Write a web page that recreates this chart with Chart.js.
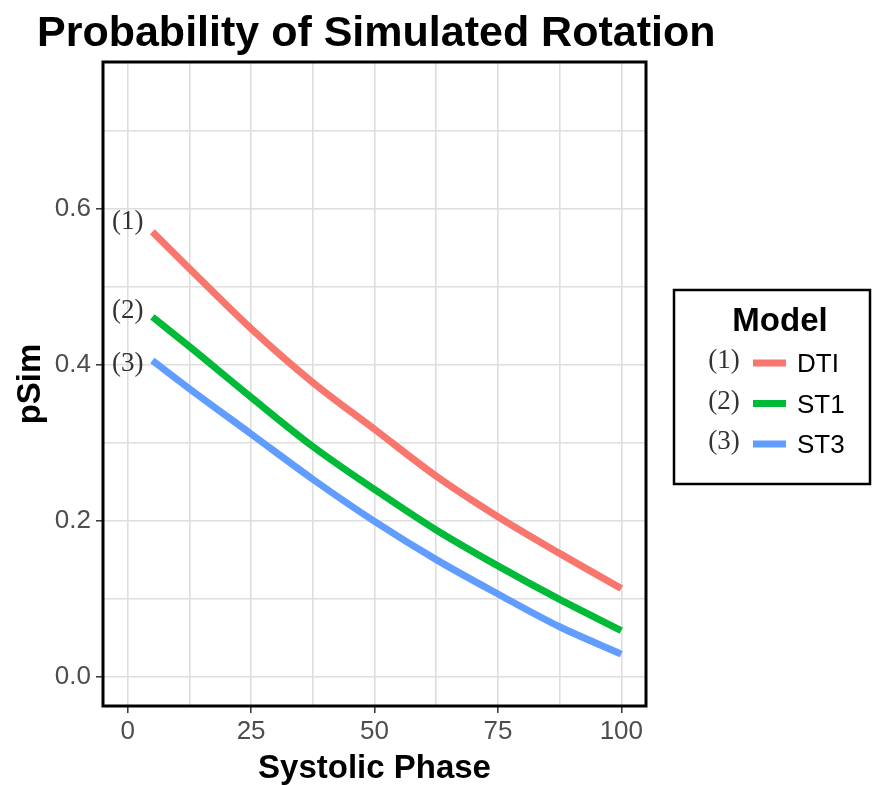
<!DOCTYPE html>
<html>
<head>
<meta charset="utf-8">
<script src="https://cdn.jsdelivr.net/npm/chart.js@4.4.1/dist/chart.umd.min.js"></script>
<style>
  html, body { margin: 0; padding: 0; background: #fff; }
  #wrap { width: 872px; height: 785px; position: relative; }
</style>
</head>
<body>
<div id="wrap"><canvas id="chart" width="872" height="785"></canvas></div>
<script>
// values
const phase = [5, 12.5, 25, 37.5, 50, 62.5, 75, 87.5, 100];
const dti = [0.570, 0.523, 0.446, 0.377, 0.317, 0.257, 0.205, 0.158, 0.113];
const st1 = [0.461, 0.423, 0.358, 0.295, 0.240, 0.188, 0.142, 0.099, 0.059];
const st3 = [0.405, 0.369, 0.311, 0.253, 0.199, 0.150, 0.106, 0.064, 0.029];

const modelNames = ["DTI", "ST1", "ST3"];
const modelTags = ["(1)", "(2)", "(3)"];
const tagX = 0;
const tagY = [0.583, 0.468, 0.401];

const xTicks = [0, 12.5, 25, 37.5, 50, 62.5, 75, 87.5, 100];
const xLabelled = [0, 25, 50, 75, 100];
const yTicks = [0, 0.1, 0.2, 0.3, 0.4, 0.5, 0.6, 0.7];
const yLabelled = [0, 0.2, 0.4, 0.6];

const colors = ["#F8766D", "#00BA38", "#619CFF"];
const SANS = "'Liberation Sans', Arial, sans-serif";
const SERIF = "'Liberation Serif', 'Times New Roman', serif";

function isLabelled(list, v) {
  return list.some((t) => Math.abs(t - v) < 1e-9);
}

function points(ys) {
  return phase.map((x, i) => ({ x, y: ys[i] }));
}

const frameAndTextPlugin = {
  id: "frameAndText",
  afterDraw(chart) {
    const { ctx, chartArea: a, scales } = chart;
    ctx.save();

    // panel border
    ctx.strokeStyle = "#000";
    ctx.lineWidth = 3;
    ctx.strokeRect(a.left, a.top, a.right - a.left, a.bottom - a.top);

    // title
    ctx.fillStyle = "#000";
    ctx.font = "bold 43px " + SANS;
    ctx.textAlign = "left";
    ctx.textBaseline = "alphabetic";
    ctx.fillText("Probability of Simulated Rotation", 37, 46);

    // line tags inside the panel
    ctx.font = "27px " + SERIF;
    ctx.fillStyle = "#333";
    ctx.textAlign = "center";
    ctx.textBaseline = "middle";
    modelTags.forEach((tag, i) => {
      ctx.fillText(tag, scales.x.getPixelForValue(tagX), scales.y.getPixelForValue(tagY[i]));
    });

    // legend
    ctx.strokeStyle = "#000";
    ctx.lineWidth = 2.5;
    ctx.strokeRect(674, 290, 196, 194);
    ctx.fillStyle = "#000";
    ctx.font = "bold 33px " + SANS;
    ctx.textAlign = "center";
    ctx.fillText("Model", 780, 322);
    chart.data.datasets.forEach((ds, i) => {
      const y = 364 + i * 40.5;
      ctx.font = "27px " + SERIF;
      ctx.fillStyle = "#333";
      ctx.textAlign = "center";
      ctx.fillText(modelTags[i], 724, y - 3);
      ctx.strokeStyle = ds.borderColor;
      ctx.lineWidth = 7;
      ctx.beginPath();
      ctx.moveTo(753, y - 1);
      ctx.lineTo(786, y - 1);
      ctx.stroke();
      ctx.font = "26px " + SANS;
      ctx.fillStyle = "#000";
      ctx.textAlign = "left";
      ctx.fillText(ds.label, 797, y + 1);
    });
    ctx.restore();
  },
};

new Chart(document.getElementById("chart"), {
  type: "line",
  data: {
    datasets: [dti, st1, st3].map((ys, i) => ({
      label: modelNames[i],
      data: points(ys),
      borderColor: colors[i],
      backgroundColor: colors[i],
      borderWidth: 7,
      pointRadius: 0,
      cubicInterpolationMode: "monotone",
      fill: false,
    })),
  },
  plugins: [frameAndTextPlugin],
  options: {
    responsive: false,
    animation: false,
    layout: { padding: { top: 62, right: 226, left: 0, bottom: 0 } },
    plugins: {
      legend: { display: false },
      title: { display: false },
      tooltip: { enabled: false },
    },
    scales: {
      x: {
        type: "linear",
        min: -5,
        max: 105,
        afterBuildTicks(scale) {
          scale.ticks = xTicks.map((value) => ({ value }));
        },
        afterFit(scale) {
          scale.height = 79;
        },
        ticks: {
          autoSkip: false,
          maxRotation: 0,
          padding: 3,
          color: "#4D4D4D",
          font: { family: SANS, size: 26 },
          callback: (v) => (isLabelled(xLabelled, v) ? String(v) : ""),
        },
        grid: {
          color: "#DEDEDE",
          lineWidth: 1.6,
          tickLength: 7,
          tickWidth: 1.5,
          tickColor: (c) => (c.tick && isLabelled(xLabelled, c.tick.value) ? "#333" : "rgba(0,0,0,0)"),
        },
        border: { display: false },
        title: {
          display: true,
          text: "Systolic Phase",
          color: "#000",
          font: { family: SANS, size: 33, weight: "bold", lineHeight: 1 },
          padding: { top: 0, bottom: 0 },
        },
      },
      y: {
        type: "linear",
        min: -0.0375,
        max: 0.7875,
        afterBuildTicks(scale) {
          scale.ticks = yTicks.map((value) => ({ value }));
        },
        afterFit(scale) {
          scale.width = 103;
        },
        ticks: {
          autoSkip: false,
          padding: 5,
          color: "#4D4D4D",
          font: { family: SANS, size: 26 },
          callback: (v) => (isLabelled(yLabelled, v) ? v.toFixed(1) : ""),
        },
        grid: {
          color: "#DEDEDE",
          lineWidth: 1.6,
          tickLength: 7,
          tickWidth: 1.5,
          tickColor: (c) => (c.tick && isLabelled(yLabelled, c.tick.value) ? "#333" : "rgba(0,0,0,0)"),
        },
        border: { display: false },
        title: {
          display: true,
          text: "pSim",
          color: "#000",
          font: { family: SANS, size: 33, weight: "bold" },
          padding: { top: 11, bottom: 0 },
        },
      },
    },
  },
});
</script>
</body>
</html>
